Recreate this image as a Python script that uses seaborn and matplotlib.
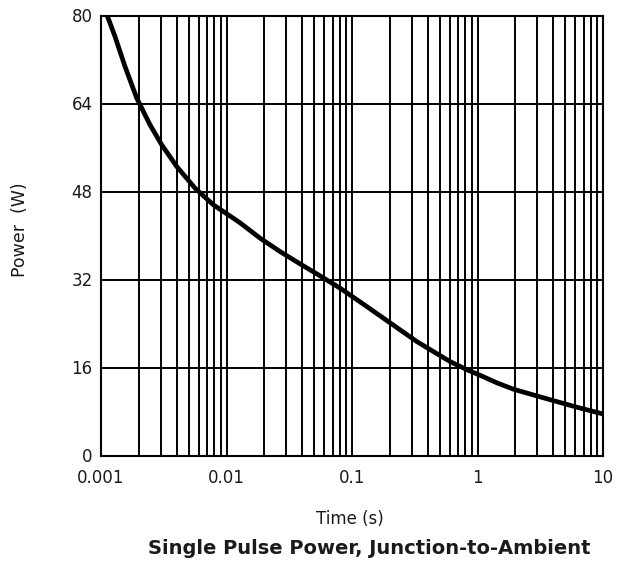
import matplotlib
matplotlib.use("Agg")
import matplotlib.pyplot as plt
import matplotlib.ticker as mticker
import seaborn as sns
import pandas as pd

# values
time_s = [0.001, 0.001122, 0.001293, 0.001554, 0.001927, 0.002459, 0.003048, 0.004016,
          0.005619, 0.007863, 0.01035, 0.01284, 0.01853, 0.02676, 0.03864, 0.05578,
          0.08053, 0.1315, 0.1783, 0.2423, 0.3293, 0.4466, 0.6069, 0.8247, 1.1185,
          1.4306, 1.9408, 2.982, 4.3053, 6.215, 10.0]
power_w = [82.5, 79.95, 76.18, 70.72, 64.97, 60.12, 56.48, 52.53,
           48.60, 45.57, 43.75, 42.3, 39.51, 37.07, 34.83, 32.65,
           30.41, 27.07, 24.96, 22.83, 20.70, 18.88, 17.06, 15.6, 14.3,
           13.2, 12.04, 10.82, 9.79, 8.77, 7.55]
y_ticks = [0, 16, 32, 48, 64, 80]
x_ticks = [0.001, 0.01, 0.1, 1, 10]
x_tick_labels = ["0.001", "0.01", "0.1", "1", "10"]

sns.set_theme(style="white")
plt.rcParams["font.family"] = ["DejaVu Sans"]

df = pd.DataFrame({"Time": time_s, "Power": power_w})

fig = plt.figure(figsize=(6.24, 5.65), dpi=100)
ax = fig.add_axes([101 / 624, 1 - 455.5 / 565, (603 - 101) / 624, (455.5 - 15.5) / 565])

sns.lineplot(data=df, x="Time", y="Power", ax=ax, color="black", linewidth=3.4,
             zorder=5, sort=True)

ax.set_xscale("log")
ax.set_xlim(0.001, 10)
ax.set_ylim(0, 80)
ax.set_xticks(x_ticks)
ax.set_xticklabels(x_tick_labels)
ax.xaxis.set_minor_locator(mticker.LogLocator(base=10, subs=range(2, 10), numticks=20))
ax.xaxis.set_minor_formatter(mticker.NullFormatter())
ax.set_yticks(y_ticks)

ax.grid(which="major", axis="both", color="black", linewidth=1.4)
ax.grid(which="minor", axis="x", color="black", linewidth=1.4)
ax.set_axisbelow(True)

for s in ax.spines.values():
    s.set_visible(True)
    s.set_color("black")
    s.set_linewidth(1.5)

ax.tick_params(axis="both", which="both", length=0, labelsize=12, colors="#1a1a1a")
ax.tick_params(axis="x", pad=10)
ax.tick_params(axis="y", pad=6)

ax.set_xlabel("")
ax.set_ylabel("")
fig.text(350 / 624, 1 - 519 / 565, "Time (s)", ha="center", va="center", fontsize=12, color="#1a1a1a")
fig.text(20 / 624, 1 - 230 / 565, "Power  (W)", ha="center", va="center", rotation=90,
         fontsize=12.5, color="#1a1a1a")
fig.text(369 / 624, 1 - 549 / 565, "Single Pulse Power, Junction-to-Ambient", ha="center", va="center",
         fontsize=14, fontweight="bold", color="#1a1a1a")

fig.savefig("out.png", dpi=100)
